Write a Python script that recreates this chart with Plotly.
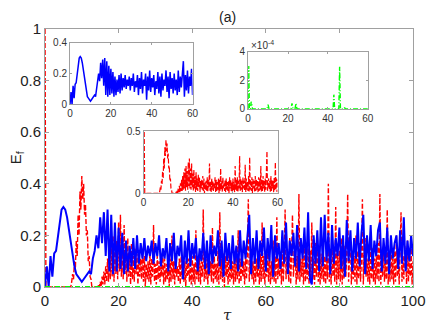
import numpy as np
import plotly.graph_objects as go

# blue solid curve, sampled every 0.5 in tau (values in 1/100)
blue = [0, 8, 0, 12, 4, 13, 14, 20, 26, 30, 31, 30, 27, 22, 17, 12, 8, 5, 4, 3,
        2, 3, 4, 5, 6, 5, 11, 14, 20, 15, 27, 17, 29, 12, 30, 6, 28, 5, 25, 6,
        23,
        7, 21, 5, 18, 6, 16, 8, 19, 7, 20, 9, 17, 11, 19, 10, 16, 12, 18, 9, 17,
        12, 20, 8, 15, 11, 19, 6, 17, 10, 21, 7, 16, 12, 20, 3, 18, 9, 22, 8, 17,
        11, 19, 6, 15, 10, 21, 7, 18, 5, 20, 9, 16, 12, 22, 8, 18, 4, 21, 10, 17,
        7, 20, 9, 16, 6, 22, 8, 18, 11, 20, 28, 5, 19, 9, 22, 7, 18, 12, 23, 6,
        19, 10, 24, 4, 20, 11, 17, 7, 22, 9, 25, 5, 18, 12, 21, 8, 24, 6, 19, 11,
        23, 7, 29, 3, 1, 20, 9, 22, 6, 27, 8, 28, 10, 21, 5, 24, 9, 19, 12, 23,
        7, 20, 4, 26, 10, 22, 6, 19, 11, 25, 8, 21, 28, 5, 20, 10, 24, 7, 18, 12,
        22, 25, 6, 19, 9, 23, 5, 20, 11, 17, 20, 7, 22, 9, 27, 6, 18, 10, 20, 12]

# red dashed curve, sampled every 0.25 in tau (values in 1/100)
red = [100, 0, 0, 0, 0, 0, 0, 0, 0, 0, 0, 0, 0, 0, 0, 0, 0, 0, 0, 0,
       0, 0, 0, 0, 0, 0, 0, 0,
       0, 2, 5, 3, 10, 7, 18, 12, 28, 20, 37, 30, 43, 34, 40, 28, 32, 20, 22, 10,
       12, 4, 3, 0, 0, 0, 0, 0, 0, 0, 1, 0,
       2, 0, 4, 1, 6, 1, 8, 2, 11, 2, 14, 3, 17, 4, 20, 2, 22, 5, 18, 3,
       25, 6, 28, 4, 20, 3, 24, 5, 16, 2, 19, 4, 14, 1, 17, 3, 12, 2, 15, 5,
       13, 1, 10, 4, 11, 3, 14, 2, 12, 0, 9, 3, 10, 2, 13, 1, 11, 4, 24, 2,
       9, 1, 12, 3, 10, 2, 8, 4, 13, 1, 11, 2, 9, 3, 12, 0, 11, 2, 20, 3,
       10, 1, 13, 4, 8, 2, 11, 1, 12, 3, 9, 2, 10, 0, 13, 4, 11, 2, 9, 1,
       12, 2, 9, 1, 22, 3, 11, 2, 13, 1, 10, 4, 30, 2, 12, 3, 11, 1, 13, 4,
       10, 2, 23, 1, 12, 3, 9, 2, 14, 1, 29, 3, 11, 2, 13, 0, 12, 4, 10, 1,
       14, 2, 11, 3, 10, 1, 13, 2, 12, 3, 22, 1, 11, 2, 14, 4, 10, 1, 12, 3,
       13, 34, 2, 11, 12, 3, 10, 1, 14, 2, 11, 4, 10, 1, 13, 2, 25, 3, 12, 1,
       11, 4, 16, 2, 12, 1, 10, 3, 18, 2, 12, 1, 27, 3, 11, 4, 13, 1, 17, 2,
       11, 30, 3, 13, 10, 2, 19, 1, 12, 28, 4, 11, 16, 1, 12, 3, 36, 2, 11, 4,
       12, 1, 18, 2, 10, 3, 15, 1, 14, 2, 25, 3, 11, 1, 17, 4, 21, 2, 12, 1,
       13, 3, 16, 2, 12, 1, 14, 3, 40, 2, 12, 1, 17, 4, 11, 2, 31, 1, 15, 3,
       14, 2, 19, 1, 12, 3, 16, 4, 13, 36, 2, 12, 18, 1, 14, 3, 12, 2, 20, 1,
       14, 3, 17, 2, 11, 34, 1, 13, 19, 4, 11, 2, 13, 1, 18, 3, 15, 2, 11, 1,
       13, 3, 17, 2, 36, 1, 13, 4, 16, 2, 11, 3, 30, 1, 13, 2, 18, 3, 11, 1,
       14, 2, 20, 4, 11, 1, 13, 29, 2, 12, 3, 16, 13, 1, 18, 2, 11, 4, 15, 1,
       10]

# green dash-dot curve (values in 1e-4)
green_t = [0, 0.3, 0.6, 1.2, 1.5, 1.8, 2.2, 9.5, 10, 10.5, 21.5, 22, 22.5, 23.5,
           24, 24.5, 42.6, 43, 43.4, 45.5, 45.9, 46.3, 48, 48.4, 48.8, 100]
green_v = [0, 3.0, 0, 0, 0.5, 0.4, 0, 0, 0.3, 0, 0, 0.4, 0, 0, 0.4, 0, 0, 1.0,
           0, 0, 2.95, 0, 0, 0.1, 0, 0]

t_blue = np.arange(len(blue)) * 0.5
t_red = np.arange(len(red)) * 0.25
e_blue = np.array(blue) / 100
e_red = np.array(red) / 100
e_green = np.array(green_v) * 1e-4

BLUE = '#0000ff'
RED = '#ff0000'
GREEN = '#00ff00'
RED_DASH = '5px,2px'
GREEN_DASH = '5px,2px,1px,2px'

fig = go.Figure()

# main plot (red underneath, blue on top)
fig.add_trace(go.Scatter(x=t_red, y=e_red, mode='lines',
                         line=dict(color=RED, width=1.4, dash=RED_DASH)))
fig.add_trace(go.Scatter(x=t_blue, y=e_blue, mode='lines',
                         line=dict(color=BLUE, width=2)))
fig.add_trace(go.Scatter(x=green_t, y=e_green, mode='lines',
                         line=dict(color=GREEN, width=1.8, dash=GREEN_DASH)))

# inset blue
m = t_blue <= 60
fig.add_trace(go.Scatter(x=t_blue[m], y=e_blue[m], mode='lines', xaxis='x2', yaxis='y2',
                         line=dict(color=BLUE, width=1.5)))
# inset green
fig.add_trace(go.Scatter(x=green_t, y=e_green, mode='lines', xaxis='x3', yaxis='y3',
                         line=dict(color=GREEN, width=1.4, dash=GREEN_DASH)))
# inset red
m = t_red <= 60
fig.add_trace(go.Scatter(x=t_red[m], y=e_red[m], mode='lines', xaxis='x4', yaxis='y4',
                         line=dict(color=RED, width=1.2, dash=RED_DASH)))

frame = dict(showline=True, linecolor='#a0a0a0', linewidth=1, mirror='ticks',
             ticks='inside', tickcolor='#a0a0a0', showgrid=False, zeroline=False)
main_font = dict(family='Liberation Sans, Arial', size=15, color='#222')
inset_font = dict(family='Liberation Sans, Arial', size=10, color='#333')

# the page body adds an 8px offset, so margins are shifted to compensate
fig.update_layout(
    width=436, height=327,
    margin=dict(l=35, r=31, t=19, b=48),
    paper_bgcolor='white', plot_bgcolor='white',
    showlegend=False,
    xaxis=dict(domain=[0, 1], range=[0, 100], tickvals=[0, 20, 40, 60, 80, 100],
               ticklen=4, tickfont=main_font, **frame),
    yaxis=dict(domain=[0, 1], range=[0, 1], tickvals=[0, 0.2, 0.4, 0.6, 0.8, 1],
               ticktext=['0', '0.2', '0.4', '0.6', '0.8', '1'],
               ticklen=4, tickfont=main_font, **frame),
    xaxis2=dict(domain=[0.068, 0.401], anchor='y2', range=[0, 60],
                tickvals=[0, 20, 40, 60], ticklen=2, tickfont=inset_font, **frame),
    yaxis2=dict(domain=[0.708, 0.947], anchor='x2', range=[0, 0.4],
                tickvals=[0, 0.2, 0.4], ticktext=['0', '0.2', '0.4'],
                ticklen=2, tickfont=inset_font, **frame),
    xaxis3=dict(domain=[0.552, 0.877], anchor='y3', range=[0, 60],
                tickvals=[0, 20, 40, 60], ticklen=2, tickfont=inset_font, **frame),
    yaxis3=dict(domain=[0.690, 0.912], anchor='x3', range=[0, 4e-4],
                tickvals=[0, 2e-4, 4e-4], ticktext=['0', '2', '4'],
                ticklen=2, tickfont=inset_font, **frame),
    xaxis4=dict(domain=[0.268, 0.632], anchor='y4', range=[0, 60],
                tickvals=[0, 20, 40, 60], ticklen=2, tickfont=inset_font, **frame),
    yaxis4=dict(domain=[0.363, 0.604], anchor='x4', range=[0, 0.5],
                tickvals=[0, 0.5], ticktext=['0', '0.5'],
                ticklen=2, tickfont=inset_font, **frame),
    annotations=[
        dict(text='(a)', x=0.497, y=1.046, xref='paper', yref='paper',
             xanchor='center', yanchor='middle', showarrow=False,
             font=dict(family='Liberation Sans, Arial', size=14, color='#222')),
        dict(text='<i>τ</i>', x=0.495, y=-0.108, xref='paper', yref='paper',
             xanchor='center', yanchor='middle', showarrow=False,
             font=dict(family='DejaVu Serif', size=15, color='#222')),
        dict(text='E<sub>f</sub>', x=-0.078, y=0.5, xref='paper', yref='paper',
             xanchor='center', yanchor='middle', textangle=-90, showarrow=False,
             font=dict(family='Liberation Sans, Arial', size=15, color='#222')),
        dict(text='×10<sup>-4</sup>', x=0.554, y=0.938, xref='paper', yref='paper',
             xanchor='left', yanchor='middle', showarrow=False, font=inset_font),
    ],
)

fig.write_html("out.html")
